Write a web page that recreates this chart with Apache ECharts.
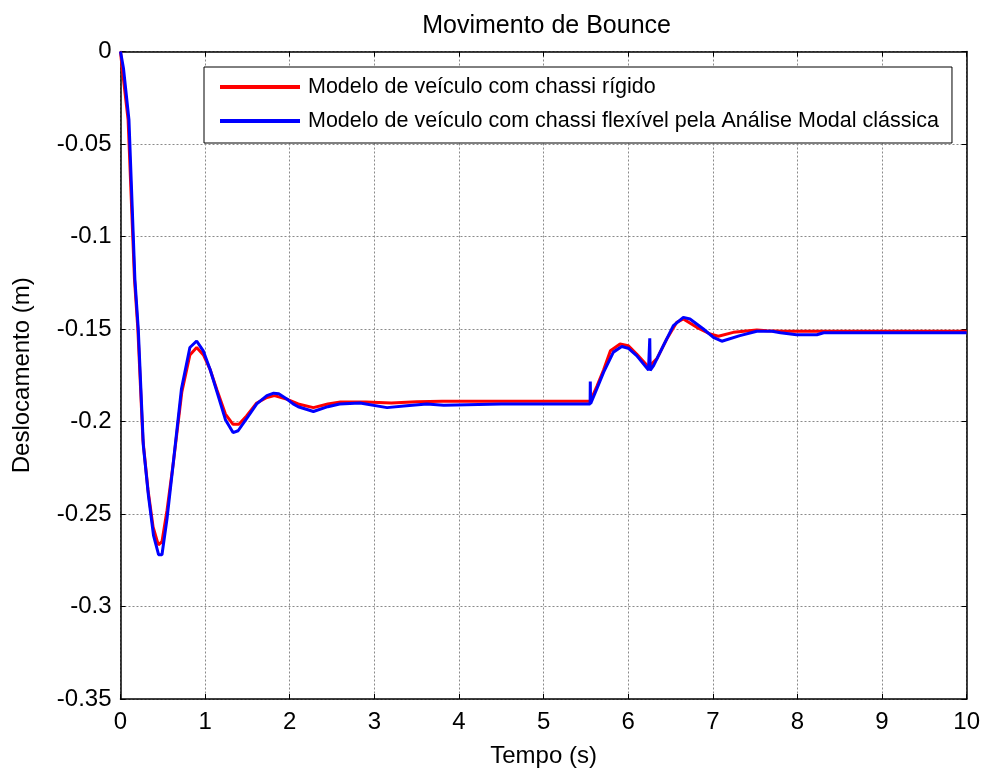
<!DOCTYPE html>
<html>
<head>
<meta charset="utf-8">
<script src="https://cdn.jsdelivr.net/npm/echarts@6/dist/echarts.min.js"></script>
<style>
  html, body { margin: 0; padding: 0; background: #fff; }
  #chart { width: 983px; height: 773px; }
</style>
</head>
<body>
<div id="chart"></div>
<script>
// Bounce displacement over time for the two vehicle models
const chartTitle = 'Movimento de Bounce';
const seriesNames = [
  'Modelo de veículo com chassi rígido',
  'Modelo de veículo com chassi flexível pela Análise Modal clássica'
];

// Rigid chassis model
const tRigido = [0, 0.02, 0.09, 0.165, 0.205, 0.265, 0.325, 0.385, 0.447, 0.49,
  0.55, 0.625, 0.725, 0.82, 0.90, 0.98, 1.06, 1.14, 1.24, 1.33,
  1.40, 1.49, 1.61, 1.73, 1.82, 1.97, 2.10, 2.28, 2.45, 2.60,
  2.90, 3.20, 3.50, 3.80, 5.55, 5.63, 5.71, 5.79, 5.904, 6.00,
  6.10, 6.24, 6.34, 6.456, 6.574, 6.652, 6.81, 6.968, 7.066, 7.243,
  7.52, 7.64, 7.83, 10];
const yRigido = [0, -0.009, -0.037, -0.123, -0.150, -0.210, -0.237, -0.257, -0.2667, -0.265,
  -0.248, -0.222, -0.184, -0.164, -0.160, -0.164, -0.172, -0.183, -0.196, -0.2015,
  -0.2015, -0.197, -0.190, -0.187, -0.186, -0.188, -0.1905, -0.1925, -0.1905, -0.1895,
  -0.1895, -0.190, -0.1893, -0.1891, -0.1891, -0.181, -0.172, -0.1617, -0.1581, -0.159,
  -0.1635, -0.1706, -0.166, -0.1554, -0.1464, -0.1446, -0.1491, -0.1527, -0.1539, -0.1518,
  -0.1505, -0.151, -0.1512, -0.1512];

// Flexible chassis model (classical modal analysis)
const tFlex = [0, 0.035, 0.10, 0.17, 0.21, 0.27, 0.33, 0.39, 0.45, 0.49,
  0.55, 0.62, 0.72, 0.82, 0.90, 0.98, 1.06, 1.14, 1.24, 1.33,
  1.39, 1.49, 1.61, 1.73, 1.81, 1.87, 1.97, 2.04, 2.10, 2.28,
  2.45, 2.59, 2.83, 3.15, 3.38, 3.62, 3.82, 4.50, 5.55, 5.552,
  5.556, 5.63, 5.71, 5.825, 5.924, 6.00, 6.10, 6.24, 6.255, 6.26,
  6.30, 6.416, 6.534, 6.652, 6.73, 6.889, 7.007, 7.106, 7.32, 7.52,
  7.70, 7.80, 7.99, 8.23, 8.31, 9.0, 10];
const yFlex = [0, -0.009, -0.037, -0.123, -0.150, -0.213, -0.240, -0.2615, -0.272, -0.272,
  -0.2525, -0.224, -0.1825, -0.160, -0.1565, -0.162, -0.172, -0.184, -0.199, -0.206,
  -0.205, -0.1985, -0.1905, -0.186, -0.1847, -0.185, -0.188, -0.1905, -0.192, -0.1946,
  -0.192, -0.1905, -0.190, -0.1925, -0.1915, -0.1905, -0.1912, -0.1905, -0.1905, -0.1784,
  -0.1904, -0.1823, -0.1733, -0.1625, -0.1595, -0.1604, -0.1644, -0.1722, -0.155, -0.1724,
  -0.1698, -0.159, -0.1482, -0.1437, -0.1446, -0.150, -0.1545, -0.1566, -0.1536, -0.1512,
  -0.1512, -0.152, -0.1531, -0.1531, -0.152, -0.152, -0.152];

// Tick labels
const xTickLabels = ['0', '1', '2', '3', '4', '5', '6', '7', '8', '9', '10'];
const yTickLabels = ['-0.35', '-0.3', '-0.25', '-0.2', '-0.15', '-0.1', '-0.05', '0'];

const zip = (t, y) => t.map((v, i) => [v, y[i]]);
const FONT = "'Liberation Sans', Arial, sans-serif";

const chart = echarts.init(document.getElementById('chart'), null, { renderer: 'canvas' });

const xLabel = v => xTickLabels[Math.round(v)] ?? '';
const yLabel = v => yTickLabels[Math.round((v + 0.35) / 0.05)] ?? '';

chart.setOption({
  animation: false,
  backgroundColor: '#fff',
  title: {
    text: chartTitle,
    left: 541.6,
    top: 9,
    textAlign: 'center',
    textStyle: { fontFamily: FONT, fontSize: 25, fontWeight: 'normal', color: '#000' }
  },
  legend: {
    orient: 'vertical',
    left: 204,
    top: 67,
    icon: 'rect',
    itemWidth: 80,
    itemHeight: 4,
    itemGap: 12,
    padding: [9, 13, 11, 16],
    backgroundColor: '#fff',
    borderColor: '#000',
    borderWidth: 1,
    textStyle: { fontFamily: FONT, fontSize: 21.5, color: '#000', lineHeight: 21, padding: [0, 0, 0, 3] },
    data: seriesNames
  },
  grid: { left: 120.5, right: 16.3, top: 51.5, bottom: 71.3, containLabel: false },
  xAxis: [{
    type: 'value',
    min: 0, max: 10, interval: 1,
    name: 'Tempo (s)',
    nameLocation: 'middle',
    nameGap: 45,
    nameTextStyle: { fontFamily: FONT, fontSize: 24, color: '#000' },
    axisLine: { show: true, onZero: false, lineStyle: { color: '#000', width: 1.5 } },
    axisTick: { show: true, inside: true, length: 5, lineStyle: { color: '#000' } },
    axisLabel: { fontFamily: FONT, fontSize: 24, color: '#000', margin: 11, formatter: xLabel },
    splitLine: { show: true, lineStyle: { color: '#8a8a8a', type: [2, 2], width: 1 } }
  }, {
    type: 'value',
    position: 'top',
    min: 0, max: 10, interval: 1,
    axisLine: { show: true, onZero: false, lineStyle: { color: '#000', width: 1.5 } },
    axisTick: { show: true, inside: true, length: 5, lineStyle: { color: '#000' } },
    axisLabel: { show: false },
    splitLine: { show: false }
  }],
  yAxis: [{
    type: 'value',
    min: -0.35, max: 0, interval: 0.05,
    name: 'Deslocamento (m)',
    nameLocation: 'middle',
    nameGap: 86,
    nameTextStyle: { fontFamily: FONT, fontSize: 24, color: '#000' },
    axisLine: { show: true, onZero: false, lineStyle: { color: '#000', width: 1.5 } },
    axisTick: { show: true, inside: true, length: 5, lineStyle: { color: '#000' } },
    axisLabel: { fontFamily: FONT, fontSize: 24, color: '#000', margin: 9, formatter: yLabel },
    splitLine: { show: true, lineStyle: { color: '#8a8a8a', type: [2, 2], width: 1 } }
  }, {
    type: 'value',
    position: 'right',
    min: -0.35, max: 0, interval: 0.05,
    axisLine: { show: true, onZero: false, lineStyle: { color: '#000', width: 1.5 } },
    axisTick: { show: true, inside: true, length: 5, lineStyle: { color: '#000' } },
    axisLabel: { show: false },
    splitLine: { show: false }
  }],
  series: [{
    name: seriesNames[0],
    type: 'line',
    data: zip(tRigido, yRigido),
    showSymbol: false,
    color: '#ff0000',
    lineStyle: { color: '#ff0000', width: 3 },
    z: 2
  }, {
    name: seriesNames[1],
    type: 'line',
    data: zip(tFlex, yFlex),
    showSymbol: false,
    color: '#0000ff',
    lineStyle: { color: '#0000ff', width: 3 },
    z: 3
  }]
});
</script>
</body>
</html>
